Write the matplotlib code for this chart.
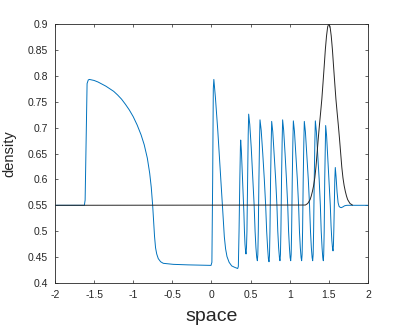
import matplotlib
matplotlib.use("Agg")
import matplotlib.pyplot as plt

# blue: computed density profile
blue_x = [
    -2.0, -1.625, -1.615, -1.600, -1.590, -1.575, -1.560, -1.500, -1.450, -1.400,
    -1.350, -1.300, -1.250, -1.200, -1.150, -1.100, -1.050, -1.000, -0.950, -0.900,
    -0.860, -0.820, -0.790, -0.770, -0.752, -0.740, -0.728, -0.715, -0.700, -0.680,
    -0.650, -0.616, -0.550, -0.488, -0.300, -0.006, 0.005, 0.015, 0.023, 0.030,
    0.050, 0.080, 0.110, 0.139, 0.164, 0.180, 0.198, 0.225, 0.258, 0.300,
    0.335, 0.343, 0.352, 0.362, 0.370, 0.373, 0.382, 0.393, 0.405, 0.414,
    0.421, 0.428, 0.435, 0.441,
    0.447, 0.453, 0.461, 0.469, 0.475,
    0.489, 0.508, 0.528, 0.545, 0.557, 0.568, 0.578, 0.586,
    0.592, 0.598, 0.606, 0.614, 0.620,
    0.635, 0.655, 0.675, 0.692, 0.705, 0.717, 0.727, 0.735,
    0.741, 0.747, 0.755, 0.763, 0.769,
    0.783, 0.801, 0.820, 0.836, 0.847, 0.858, 0.868, 0.875,
    0.881, 0.887, 0.895, 0.903, 0.909,
    0.922, 0.940, 0.958, 0.974, 0.985, 0.996, 1.005, 1.012,
    1.018, 1.024, 1.032, 1.040, 1.046,
    1.060, 1.078, 1.097, 1.113, 1.124, 1.135, 1.145, 1.152,
    1.158, 1.164, 1.172, 1.180, 1.186,
    1.200, 1.218, 1.237, 1.253, 1.265, 1.276, 1.286, 1.293,
    1.299, 1.305, 1.313, 1.321, 1.327,
    1.340, 1.358, 1.376, 1.391, 1.402, 1.413, 1.422, 1.429,
    1.434, 1.440, 1.447, 1.454, 1.459,
    1.471, 1.487, 1.504, 1.518, 1.528, 1.538, 1.546, 1.553,
    1.558, 1.563, 1.570, 1.576, 1.582,
    1.592, 1.605, 1.618, 1.630, 1.645, 1.659, 1.680, 1.700, 1.730, 2.0,
]
blue_y = [
    0.55, 0.55, 0.56, 0.70, 0.785, 0.792, 0.793, 0.791, 0.788, 0.784,
    0.780, 0.775, 0.770, 0.763, 0.755, 0.745, 0.734, 0.721, 0.705, 0.686,
    0.667, 0.641, 0.612, 0.585, 0.55, 0.52, 0.49, 0.468, 0.456, 0.447,
    0.441, 0.438, 0.437, 0.436, 0.435, 0.434, 0.44, 0.60, 0.775, 0.793,
    0.758, 0.695, 0.620, 0.551, 0.489, 0.466, 0.451, 0.440, 0.433, 0.430,
    0.428, 0.432, 0.50, 0.60, 0.665, 0.676, 0.655, 0.615, 0.57, 0.535,
    0.50, 0.475, 0.462, 0.456,
    0.468, 0.50, 0.60, 0.686, 0.726,
    0.706, 0.661, 0.60, 0.55, 0.50, 0.468, 0.449, 0.443,
    0.455, 0.50, 0.60, 0.675, 0.715,
    0.695, 0.650, 0.60, 0.55, 0.50, 0.468, 0.447, 0.441,
    0.453, 0.50, 0.60, 0.672, 0.712,
    0.692, 0.647, 0.60, 0.55, 0.50, 0.468, 0.449, 0.443,
    0.455, 0.50, 0.60, 0.675, 0.715,
    0.695, 0.650, 0.60, 0.55, 0.50, 0.468, 0.449, 0.443,
    0.455, 0.50, 0.60, 0.673, 0.713,
    0.693, 0.648, 0.60, 0.55, 0.50, 0.468, 0.449, 0.443,
    0.455, 0.50, 0.60, 0.672, 0.712,
    0.692, 0.647, 0.60, 0.55, 0.50, 0.468, 0.449, 0.443,
    0.455, 0.50, 0.60, 0.673, 0.713,
    0.693, 0.648, 0.60, 0.55, 0.50, 0.468, 0.449, 0.443,
    0.455, 0.50, 0.60, 0.664, 0.704,
    0.684, 0.639, 0.59, 0.55, 0.51, 0.482, 0.468, 0.462,
    0.472, 0.50, 0.56, 0.60, 0.623,
    0.605, 0.575, 0.555, 0.548, 0.546, 0.5455, 0.547, 0.549, 0.55, 0.55,
]

# black: initial condition, flat with a bump at x = 1.5
black_x = [
    -1.98, 1.20, 1.23, 1.26, 1.275, 1.29, 1.305, 1.32, 1.335, 1.35,
    1.365, 1.38, 1.395, 1.41, 1.425, 1.44, 1.455, 1.47, 1.485, 1.50,
    1.515, 1.53, 1.545, 1.56, 1.575, 1.59, 1.605, 1.62, 1.635, 1.65,
    1.665, 1.68, 1.695, 1.71, 1.725, 1.74, 1.77, 1.80,
]
black_y = [
    0.55, 0.5505, 0.5535, 0.561, 0.568, 0.577, 0.588, 0.603, 0.624, 0.652,
    0.680, 0.706, 0.730, 0.755, 0.786, 0.818, 0.851, 0.877, 0.895, 0.90,
    0.895, 0.877, 0.851, 0.818, 0.786, 0.755, 0.730, 0.706, 0.680, 0.652,
    0.624, 0.603, 0.588, 0.577, 0.568, 0.561, 0.5535, 0.5505,
]

x_ticks = [-2, -1.5, -1, -0.5, 0, 0.5, 1, 1.5, 2]
x_tick_labels = ["-2", "-1.5", "-1", "-0.5", "0", "0.5", "1", "1.5", "2"]
y_ticks = [0.4, 0.45, 0.5, 0.55, 0.6, 0.65, 0.7, 0.75, 0.8, 0.85, 0.9]
y_tick_labels = ["0.4", "0.45", "0.5", "0.55", "0.6", "0.65", "0.7", "0.75", "0.8", "0.85", "0.9"]

plt.rcParams["font.family"] = ["Liberation Sans", "DejaVu Sans"]

fig = plt.figure(figsize=(4.07, 3.26), dpi=100)
ax = fig.add_axes([55 / 407, 43 / 326, 313 / 407, 259 / 326])

ax.plot(blue_x, blue_y, color="#0072BD", lw=0.7)
ax.plot(black_x, black_y, color="#262626", lw=0.7)

ax.set_xlim(-2, 2)
ax.set_ylim(0.4, 0.9)
ax.set_xticks(x_ticks)
ax.set_xticklabels(x_tick_labels)
ax.set_yticks(y_ticks)
ax.set_yticklabels(y_tick_labels)
ax.tick_params(direction="in", length=2.5, width=0.5, labelsize=7.5,
               colors="#262626", top=True, right=True, pad=5)
for s in ax.spines.values():
    s.set_linewidth(0.6)
    s.set_color("#262626")

ax.set_xlabel("space", fontsize=14, color="#262626", labelpad=6)
ax.set_ylabel("density", fontsize=10.5, color="#262626", labelpad=8)

fig.savefig("out.png", dpi=100)
